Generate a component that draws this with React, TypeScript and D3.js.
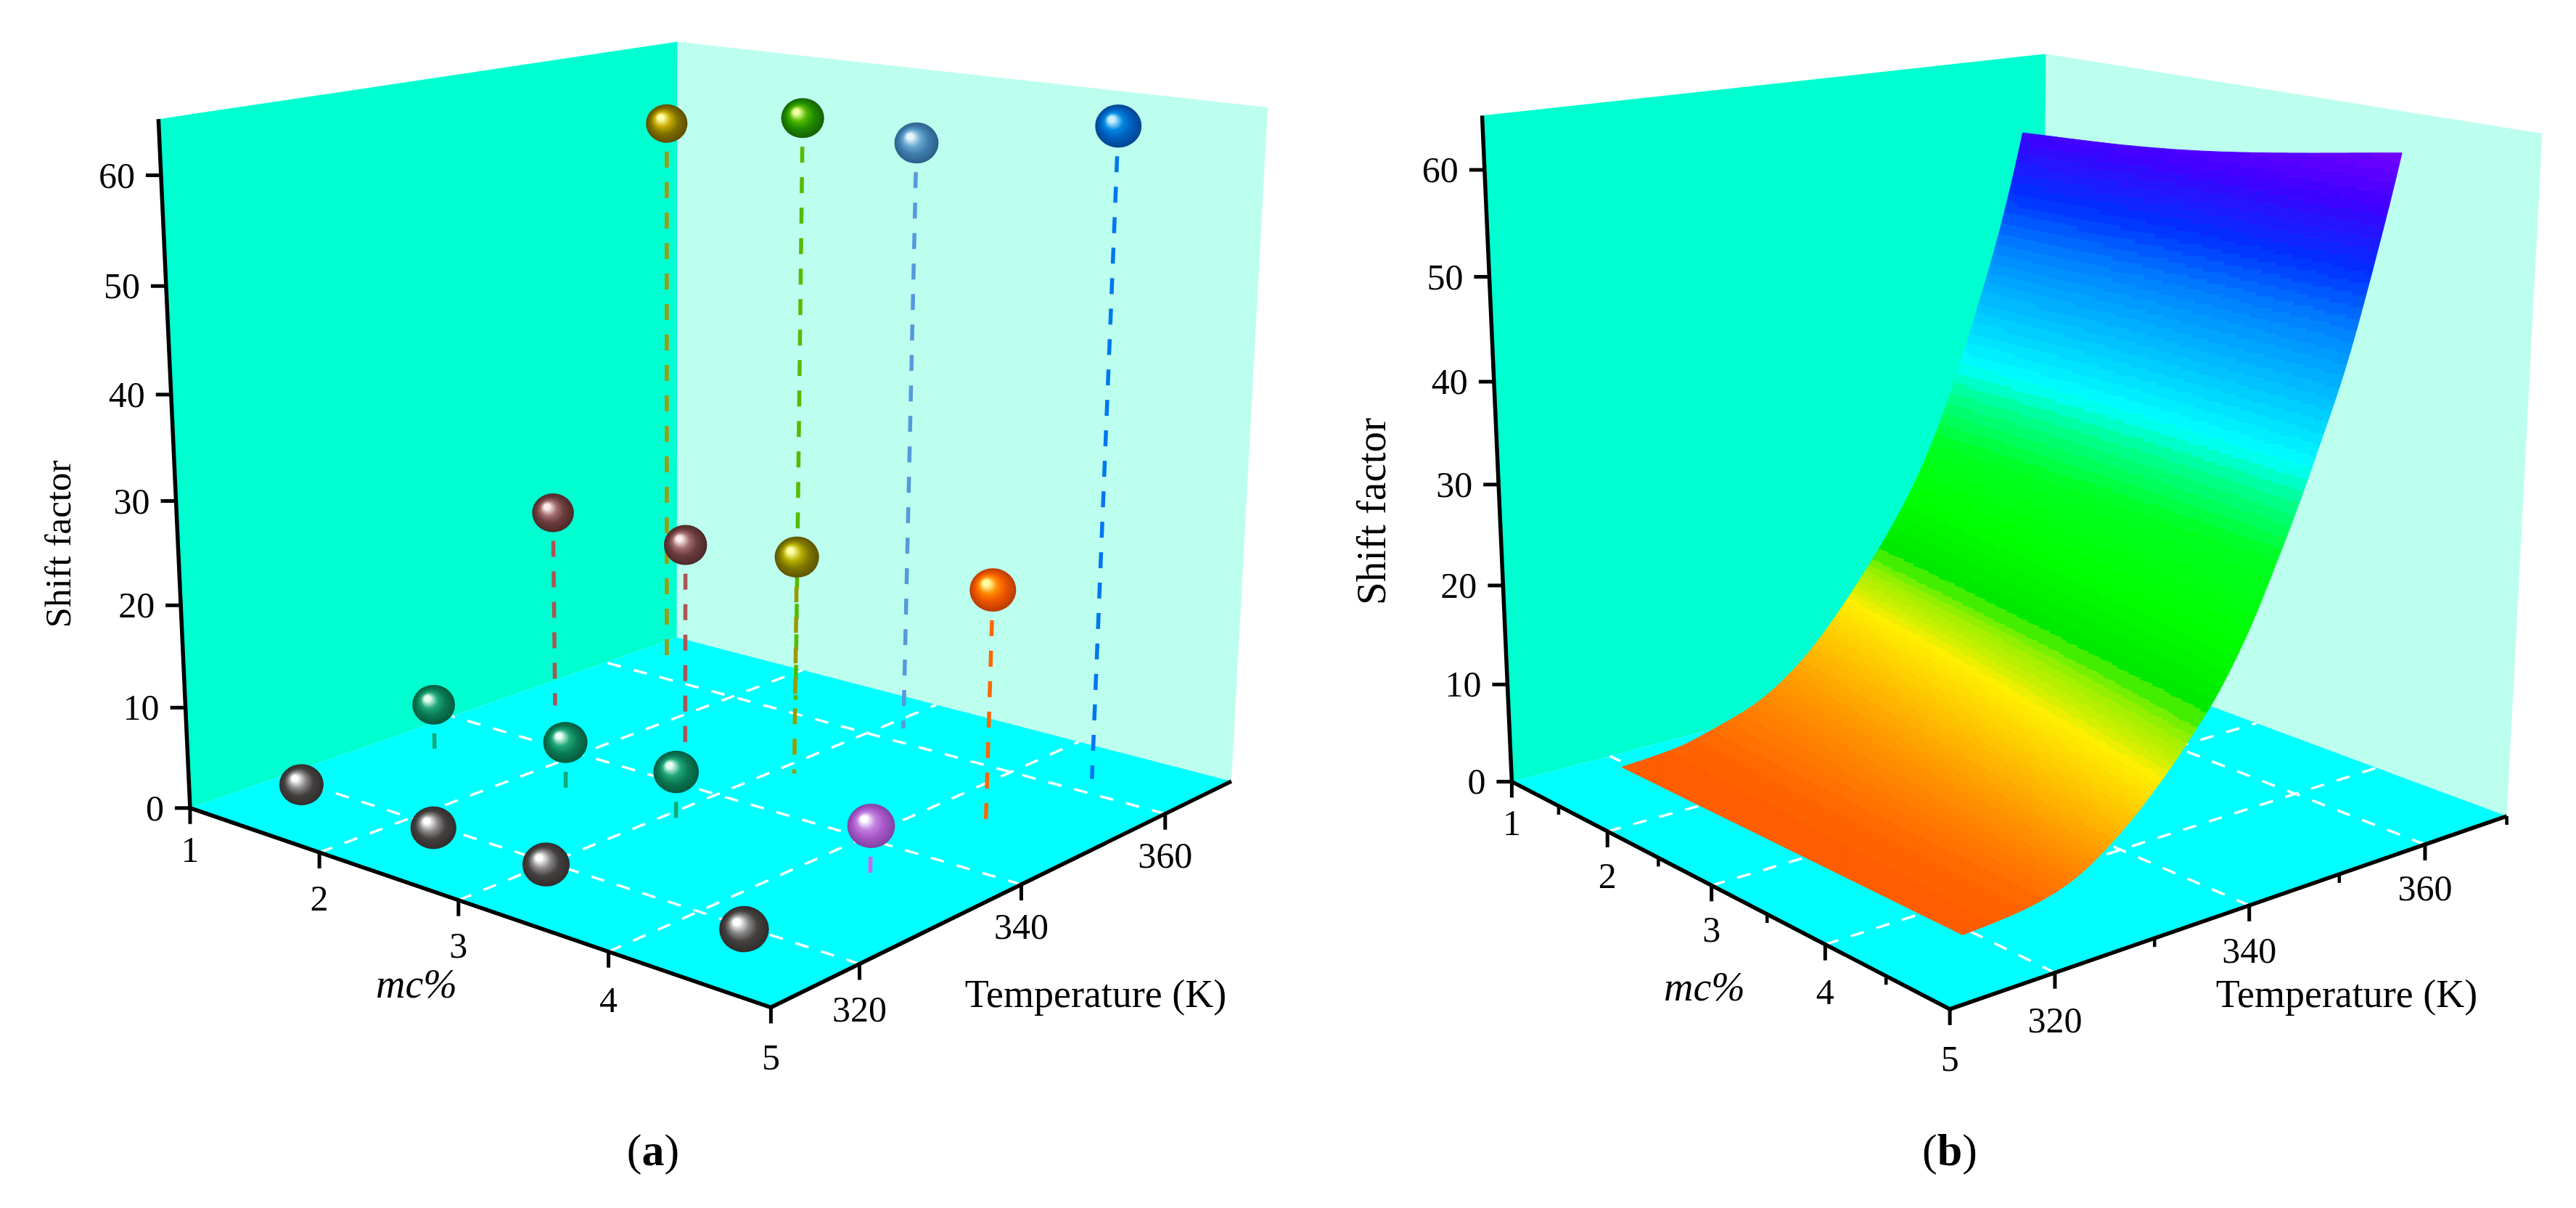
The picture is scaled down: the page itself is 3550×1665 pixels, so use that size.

import React from "react";
import * as d3 from "d3";

// ---------- data ----------
const zTicks = [0, 10, 20, 30, 40, 50, 60];
const mcTicks = [1, 2, 3, 4, 5];
const tempTicks = [320, 340, 360];
const mcMinor = [1.5, 2.5, 3.5, 4.5];
const tempMinor = [330, 350, 370];
const pointMc = [1.32, 2.32, 3.11, 4.4, 1.32, 2.32, 3.11, 4.4, 1.32, 2.32, 3.11, 4.4, 1.3, 2.3, 3.1, 4.4];
const pointTemp = [363, 363, 363, 363, 348, 348, 348, 348, 333, 333, 333, 333, 318, 318, 318, 318];
const pointShift = [58, 60.3, 59.3, 63.2, 20.6, 20.5, 21.9, 23.1, 4.6, 4.7, 5, 5.3, 1, 1, 1, 1];
const pointKind = ["olive", "green", "steel", "blue", "maroon", "maroon", "olive2", "orange", "teal", "teal", "teal", "purple", "gray", "gray", "gray", "gray"];
const surfMc = [1.28, 2.3, 3.1, 4.4];
const surfTemp = [318.5, 324, 328, 333, 337, 341, 344.5, 348, 351, 355, 358, 361, 363.7];
const surfZ0 = [0.6, 1.05, 2.0, 3.7, 6.2, 9.9, 14.0, 18.6, 23.2, 31.5, 39.4, 48.2, 58];
const surfZ1 = [0.56, 1.0, 1.9, 3.8, 6.5, 10.25, 14.3, 18.95, 23.8, 32.2, 39.7, 48.5, 58.8];
const surfZ2 = [0.54, 0.95, 1.82, 3.94, 6.8, 10.65, 14.7, 19.5, 24.7, 33.3, 40.95, 49.8, 59.95];
const surfZ3 = [0.5, 0.9, 1.7, 4.2, 7.4, 11.4, 15.5, 21, 27, 36, 43.5, 53, 62.7];
const colorDomain = [0, 1, 3.3, 6, 9.5, 12.3, 13.5, 15, 16, 16.5, 17, 22, 27, 32, 35, 40, 44, 47, 52, 58, 64];
const colorRange = ["#ff5500", "#ff5f00", "#ff8000", "#ffa000", "#ffcc00", "#fff000", "#ccf000", "#a0f000", "#66f000", "#44ee00", "#00e800", "#00ff00", "#00ff20", "#00ff90", "#00ffff", "#00c8ff", "#00a0ff", "#0080ff", "#0030ff", "#4000ff", "#8000ff"];
const shadeKnots = [5, 9, 14, 27];
const shadeBoost = [0.45, 0.35, 0.19, 0];

// ---------- styles ----------
const ballStyle: Record<string, { hi: string; lo: string; base: string; dark: string; stem: string | null }> = {
  olive: { hi: "#ffffa8", lo: "#c4a800", base: "#807000", dark: "#5c4c00", stem: "#a09a10" },
  olive2: { hi: "#ffffa8", lo: "#b8b000", base: "#807800", dark: "#5c5400", stem: "#9a9a00" },
  green: { hi: "#f0ffa0", lo: "#50b800", base: "#1f8a00", dark: "#146000", stem: "#55bb00" },
  steel: { hi: "#e8f8ff", lo: "#6aa8d0", base: "#3f7fae", dark: "#2c5f88", stem: "#5599dd" },
  blue: { hi: "#c8f0ff", lo: "#0088e0", base: "#0060c0", dark: "#004490", stem: "#0077ee" },
  maroon: { hi: "#ffeeee", lo: "#a06a6a", base: "#6a3c3c", dark: "#4c2828", stem: "#aa5555" },
  orange: { hi: "#ffffa0", lo: "#ff8800", base: "#ee5500", dark: "#b83c00", stem: "#ff6600" },
  teal: { hi: "#e8fff4", lo: "#20a878", base: "#0a7a55", dark: "#06583c", stem: "#11aa77" },
  purple: { hi: "#ffffff", lo: "#c080e0", base: "#a858c8", dark: "#8040a0", stem: "#cc66ee" },
  gray: { hi: "#ffffff", lo: "#8a8888", base: "#444040", dark: "#302c2c", stem: null },
};
const FONT = "'Liberation Serif', 'Times New Roman', serif";

// ---------- projection ----------
type A = [number, number, number, number, number];
const U = d3.scaleLinear().domain([1, 5]).range([0, 1]);
const V = d3.scaleLinear().domain([310, 370]).range([0, 1]);
const W = d3.scaleLinear().domain([0, 65]).range([0, 1]);

const calibA: A[] = [[1,310,0,262,1115],[5,310,0,1062,1387],[5,370,0,1697,1075],[1,370,0,933,879],[1,310,65,218,164],[1,370,65,933,57],[5,370,65,1747,149],
[1,310,60,222,241],[1,310,50,229,394],[1,310,40,236,544],[1,310,30,243,691],[1,310,20,250,835],[1,310,10,256,976],
[2,310,0,439,1173],[3,310,0,630,1240],[4,310,0,839,1310],[5,320,0,1185,1331],[5,340,0,1409,1222],[5,360,0,1605,1121]];
const calibB: A[] = [[1,310,0,2083,1078],[5,310,0,2687,1390],[5,370,0,3455,1124],[1,370,0,2818,885],[1,310,65,2043,160],[1,370,65,2818,74],[5,370,65,3504,184],
[1,310,60,2046,233],[1,310,50,2053,382],[1,310,40,2059,526],[1,310,30,2065,668],[1,310,20,2071,808],[1,310,10,2077,944],
[2,310,0,2214,1145],[3,310,0,2358,1220],[4,310,0,2517,1301],[5,320,0,2832,1341],[5,340,0,3100,1248],[5,360,0,3344,1164],[3,370,0,3106,998],[4,370,0,3273,1060]];

function solve(M: number[][], b: number[]) {
  const n = b.length;
  const a = M.map((r, i) => [...r, b[i]]);
  for (let i = 0; i < n; i++) {
    let p = i;
    for (let k = i + 1; k < n; k++) if (Math.abs(a[k][i]) > Math.abs(a[p][i])) p = k;
    [a[i], a[p]] = [a[p], a[i]];
    for (let k = 0; k < n; k++) if (k !== i) {
      const f = a[k][i] / a[i][i];
      for (let j = i; j <= n; j++) a[k][j] -= f * a[i][j];
    }
  }
  return a.map((r, i) => r[n] / r[i]);
}
function fit(an: A[]) {
  const rows: number[][] = [], rhs: number[] = [];
  for (const [m, t, z, x, y] of an) {
    const u = U(m), v = V(t), w = W(z);
    rows.push([u, v, w, 1, 0, 0, 0, 0, -x * u, -x * v, -x * w]); rhs.push(x);
    rows.push([0, 0, 0, 0, u, v, w, 1, -y * u, -y * v, -y * w]); rhs.push(y);
  }
  const N = d3.range(11).map(i => d3.range(11).map(j => d3.sum(rows, r => r[i] * r[j])));
  const B = d3.range(11).map(i => d3.sum(rows, (r, k) => r[i] * rhs[k]));
  return solve(N, B);
}
type Proj = (m: number, t: number, z: number) => [number, number];
const makeProj = (p: number[]): Proj => (m, t, z) => {
  const u = U(m), v = V(t), w = W(z);
  const d = p[8] * u + p[9] * v + p[10] * w + 1;
  return [(p[0] * u + p[1] * v + p[2] * w + p[3]) / d, (p[4] * u + p[5] * v + p[6] * w + p[7]) / d];
};
const depth = (p: number[], m: number, t: number, z: number) => p[8] * U(m) + p[9] * V(t) + p[10] * W(z) + 1;
const poly = (pts: [number, number][]) => d3.line()(pts) + "Z";

// ---------- surface interpolation (smooth rendering of the read table) ----------
function hermite(xs: number[], ys: number[], x: number) {
  const n = xs.length;
  let i = d3.bisectRight(xs, x) - 1;
  i = Math.max(0, Math.min(n - 2, i));
  const slope = (k: number) => k <= 0 ? (ys[1] - ys[0]) / (xs[1] - xs[0]) : k >= n - 1 ? (ys[n - 1] - ys[n - 2]) / (xs[n - 1] - xs[n - 2]) : (ys[k + 1] - ys[k - 1]) / (xs[k + 1] - xs[k - 1]);
  const h = xs[i + 1] - xs[i], s = (x - xs[i]) / h;
  const s2 = s * s, s3 = s2 * s;
  return (2 * s3 - 3 * s2 + 1) * ys[i] + (s3 - 2 * s2 + s) * h * slope(i) + (-2 * s3 + 3 * s2) * ys[i + 1] + (s3 - s2) * h * slope(i + 1);
}
const colorOf = d3.scaleLinear<string>().domain(colorDomain).range(colorRange).clamp(true);
const boostOf = d3.scaleLinear().domain(shadeKnots).range(shadeBoost).clamp(true);
const levels = [...d3.range(0, 16, 0.5), ...d3.range(16, 72, 1)];

function surfacePaths(proj: Proj) {
  const cols = [surfZ0, surfZ1, surfZ2, surfZ3].map(c => c.map(Math.log));
  const nM = 60, nT = 420;
  const mcs = d3.range(nM + 1).map(i => surfMc[0] + (surfMc[3] - surfMc[0]) * i / nM);
  const ts = d3.range(nT + 1).map(i => surfTemp[0] + (surfTemp[12] - surfTemp[0]) * i / nT);
  const grid = ts.map(t => {
    const atT = cols.map(c => hermite(surfTemp, c, t));
    return mcs.map(m => Math.exp(hermite(surfMc, atT, m)));
  });
  const buckets = new Map<number, string[]>();
  for (let j = 0; j < nT; j++) for (let i = 0; i < nM; i++) {
    const a = proj(mcs[i], ts[j], grid[j][i]), b = proj(mcs[i + 1], ts[j], grid[j][i + 1]);
    const c = proj(mcs[i + 1], ts[j + 1], grid[j + 1][i + 1]), e = proj(mcs[i], ts[j + 1], grid[j + 1][i]);
    const z = (grid[j][i] + grid[j][i + 1] + grid[j + 1][i] + grid[j + 1][i + 1]) / 4;
    const s = (i + 0.5) / nM;
    const shade = z * (1 + s * boostOf(z));
    const l = Math.max(0, d3.bisectRight(levels, shade) - 1);
    const d = `M${a[0].toFixed(1)} ${a[1].toFixed(1)}L${b[0].toFixed(1)} ${b[1].toFixed(1)}L${c[0].toFixed(1)} ${c[1].toFixed(1)}L${e[0].toFixed(1)} ${e[1].toFixed(1)}Z`;
    if (!buckets.has(l)) buckets.set(l, []);
    buckets.get(l)!.push(d);
  }
  return Array.from(buckets.entries()).sort((x, y) => x[0] - y[0]).map(([l, ds]) => ({
    d: ds.join(""),
    color: colorOf(levels[l] + (levels[l + 1] - levels[l]) / 2),
  }));
}

// ---------- panel ----------
function Box({ proj, minor, mcLab, tLab }: { proj: Proj; minor: boolean; mcLab: number[]; tLab: number[] }) {
  const c = proj;
  const leftWall = [c(1, 310, 0), c(1, 310, 65), c(1, 370, 65), c(1, 370, 0)];
  const backWall = [c(1, 370, 0), c(1, 370, 65), c(5, 370, 65), c(5, 370, 0)];
  const floor = [c(1, 310, 0), c(1, 370, 0), c(5, 370, 0), c(5, 310, 0)];
  return (
    <g>
      <path d={poly(leftWall)} fill="#00ffd0" />
      <path d={poly(backWall)} fill="#bcffee" />
      <path d={poly(floor)} fill="#00ffff" />
      {mcTicks.slice(1, 4).map(m => <path key={"gm" + m} d={d3.line()([c(m, 310, 0), c(m, 370, 0)])!} stroke="#fff" strokeWidth={3.5} strokeDasharray="19 18" fill="none" />)}
      {tempTicks.map(t => <path key={"gt" + t} d={d3.line()([c(5, t, 0), c(1, t, 0)])!} stroke="#fff" strokeWidth={3.5} strokeDasharray="19 18" fill="none" />)}
      <path d={d3.line()([c(1, 310, 65), c(1, 310, 0), c(5, 310, 0), c(5, 370, 0)])!} stroke="#000" strokeWidth={5.5} fill="none" strokeLinejoin="miter" />
      {zTicks.map(z => {
        const [x, y] = c(1, 310, z);
        return (
          <g key={"z" + z}>
            <line x1={x} y1={y} x2={x - 21} y2={y} stroke="#000" strokeWidth={5} />
            <text x={x - 36} y={y + 17} textAnchor="end" fontSize={50} fontFamily={FONT} fill="#000">{z}</text>
          </g>
        );
      })}
      {mcTicks.map((m, i) => {
        const [x, y] = c(m, 310, 0);
        return (
          <g key={"m" + m}>
            <line x1={x} y1={y} x2={x} y2={y + 22} stroke="#000" strokeWidth={5} />
            <text x={x} y={y + mcLab[i] + 17} textAnchor="middle" fontSize={50} fontFamily={FONT} fill="#000">{m}</text>
          </g>
        );
      })}
      {tempTicks.map((t, i) => {
        const [x, y] = c(5, t, 0);
        return (
          <g key={"t" + t}>
            <line x1={x} y1={y} x2={x} y2={y + 22} stroke="#000" strokeWidth={5} />
            <text x={x} y={y + tLab[i] + 17} textAnchor="middle" fontSize={50} fontFamily={FONT} fill="#000">{t}</text>
          </g>
        );
      })}
      {minor && mcMinor.map(m => {
        const [x, y] = c(m, 310, 0);
        return <line key={"mm" + m} x1={x} y1={y} x2={x} y2={y + 12} stroke="#000" strokeWidth={4.5} />;
      })}
      {minor && tempMinor.map(t => {
        const [x, y] = c(5, t, 0);
        return <line key={"tm" + t} x1={x} y1={y} x2={x} y2={y + 12} stroke="#000" strokeWidth={4.5} />;
      })}
    </g>
  );
}

const Titles = ({ sfX, sfY, sfSize, tX, mcX, mcY, cap, capText }: any) => (
  <g fontFamily={FONT} fill="#000">
    <text transform={`translate(${sfX},${sfY}) rotate(-90)`} textAnchor="middle" fontSize={sfSize}>Shift factor</text>
    <text x={tX} y={1388} textAnchor="middle" fontSize={54}>Temperature (K)</text>
    <text x={mcX} y={mcY} textAnchor="middle" fontSize={56} fontStyle="italic">mc%</text>
    <text x={cap} y={1606} textAnchor="middle" fontSize={62}>(<tspan fontWeight="bold">{capText}</tspan>)</text>
  </g>
);

export default function App() {
  const pA = fit(calibA), pB = fit(calibB);
  const projA = makeProj(pA), projB = makeProj(pB);
  const pts = pointMc.map((m, i) => {
    const top = projA(m, pointTemp[i], pointShift[i]);
    const bot = projA(m, pointTemp[i], 0);
    const r = 30.5 * depth(pA, 3, 340, 0) / depth(pA, m, pointTemp[i], pointShift[i]);
    return { i, top, bot, r, kind: pointKind[i], order: m - pointTemp[i] };
  });
  const drawOrder = [...pts].sort((a, b) => a.order - b.order);
  const kinds = Object.keys(ballStyle);
  const surf = surfacePaths(projB);
  return (
    <svg width={3550} height={1665} style={{ position: "absolute", left: 0, top: 0, background: "#fff" }}>
      <defs>
        {kinds.map(k => {
          const s = ballStyle[k];
          return (
            <radialGradient key={k} id={"ball-" + k} cx="0.5" cy="0.5" r="0.5" fx="0.33" fy="0.32">
              <stop offset="0" stopColor={s.hi} />
              <stop offset="0.13" stopColor={s.hi} />
              <stop offset="0.4" stopColor={s.lo} />
              <stop offset="0.66" stopColor={s.base} />
              <stop offset="1" stopColor={s.dark} />
            </radialGradient>
          );
        })}
      </defs>

      <Box proj={projA} minor={false} mcLab={[57, 63, 62, 66, 68]} tLab={[62, 58, 57]} />
      {pts.filter(p => ballStyle[p.kind].stem).sort((a, b) => a.order - b.order).map(p => {
        const len = p.bot[1] - p.top[1];
        const k = (p.r * 0.93 + 12) / len;
        const start: [number, number] = [p.top[0] + (p.bot[0] - p.top[0]) * k, p.top[1] + len * k];
        return <path key={"s" + p.i} d={d3.line()([start, p.bot])!} stroke={ballStyle[p.kind].stem!} strokeWidth={5.5} strokeDasharray="22 20" fill="none" />;
      })}
      {drawOrder.map(p => <ellipse key={"b" + p.i} cx={p.top[0]} cy={p.top[1]} rx={p.r} ry={p.r * 0.93} fill={`url(#ball-${p.kind})`} />)}
      <Titles sfX={97} sfY={750} sfSize={51} tX={1510} mcX={574} mcY={1375} cap={900} capText="a" />

      <Box proj={projB} minor={true} mcLab={[57, 61, 61, 65, 68]} tLab={[65, 62, 60]} />
      {surf.map((s, i) => <path key={"q" + i} d={s.d} fill={s.color} stroke={s.color} strokeWidth={0.8} />)}
      <Titles sfX={1909} sfY={705} sfSize={57} tX={3234} mcX={2349} mcY={1379} cap={2687} capText="b" />
    </svg>
  );
}
